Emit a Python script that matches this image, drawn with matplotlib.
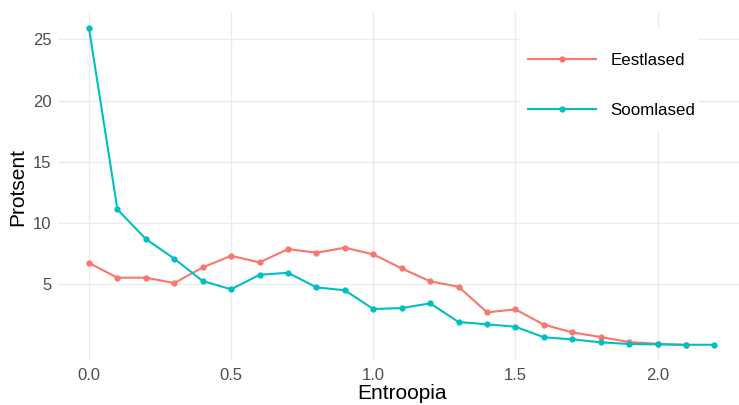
import matplotlib.pyplot as plt
from matplotlib.lines import Line2D
from matplotlib.patches import Rectangle

# Datos
entroopia = [0.0, 0.1, 0.2, 0.3, 0.4, 0.5, 0.6, 0.7, 0.8, 0.9, 1.0, 1.1,
             1.2, 1.3, 1.4, 1.5, 1.6, 1.7, 1.8, 1.9, 2.0, 2.1, 2.2]
eestlased = [6.72, 5.52, 5.52, 5.08, 6.36, 7.31, 6.77, 7.86, 7.56, 7.97, 7.43,
             6.28, 5.22, 4.78, 2.69, 2.93, 1.68, 1.05, 0.67, 0.26, 0.12, 0.02]
soomlased = [25.92, 11.10, 8.68, 7.07, 5.25, 4.57, 5.76, 5.92, 4.73, 4.49, 2.96,
             3.04, 3.42, 1.90, 1.71, 1.51, 0.65, 0.48, 0.24, 0.10, 0.07, 0.04, 0.04]
y_ticks = [5, 10, 15, 20, 25]
x_ticks = [0.0, 0.5, 1.0, 1.5, 2.0]

plt.rcParams['font.family'] = ['Liberation Sans', 'DejaVu Sans']

fig = plt.figure(figsize=(7.39, 4.05), dpi=100)
ax = fig.add_axes([0.0781, 0.1086, 0.931, 0.861])

col_ee = '#F8766D'
col_so = '#00BFC4'

ax.plot(entroopia[:len(eestlased)], eestlased, color=col_ee, lw=1.5,
        marker='o', ms=3.5, zorder=3)
ax.plot(entroopia, soomlased, color=col_so, lw=1.5,
        marker='o', ms=3.5, zorder=3)

ax.set_xlim(-0.11, 2.31)
ax.set_ylim(-1.29, 27.21)
ax.set_xticks(x_ticks)
ax.set_xticklabels([f'{v:.1f}' for v in x_ticks])
ax.set_yticks(y_ticks)

ax.grid(True, color='#EBEBEB', lw=1.0, zorder=0)
ax.set_axisbelow(True)
for s in ax.spines.values():
    s.set_visible(False)
ax.tick_params(length=0, labelsize=12, labelcolor='#4D4D4D')
ax.tick_params(axis='y', pad=4.5)
ax.tick_params(axis='x', pad=5)

ax.set_xlabel('Entroopia', fontsize=15, labelpad=1)
ax.set_ylabel('Protsent', fontsize=15, labelpad=4)

# Fondo blanco de la leyenda (como en ggplot)
ax.add_patch(Rectangle((521 / 739, 1 - 130 / 405), 177 / 739, 102 / 405,
                       transform=fig.transFigure, facecolor='white',
                       edgecolor='none', zorder=2))

# Leyenda
handles = [Line2D([], [], color=col_ee, lw=1.5, marker='o', ms=3.5),
           Line2D([], [], color=col_so, lw=1.5, marker='o', ms=3.5)]
leg = ax.legend(handles, ['Eestlased', 'Soomlased'], loc='center',
                bbox_to_anchor=(611.5 / 739, 1 - 85.5 / 405),
                bbox_transform=fig.transFigure, fontsize=12.2,
                handlelength=4.0, handletextpad=0.85, labelspacing=2.05,
                borderpad=0.6, frameon=False)

fig.savefig('out.png', dpi=100)
